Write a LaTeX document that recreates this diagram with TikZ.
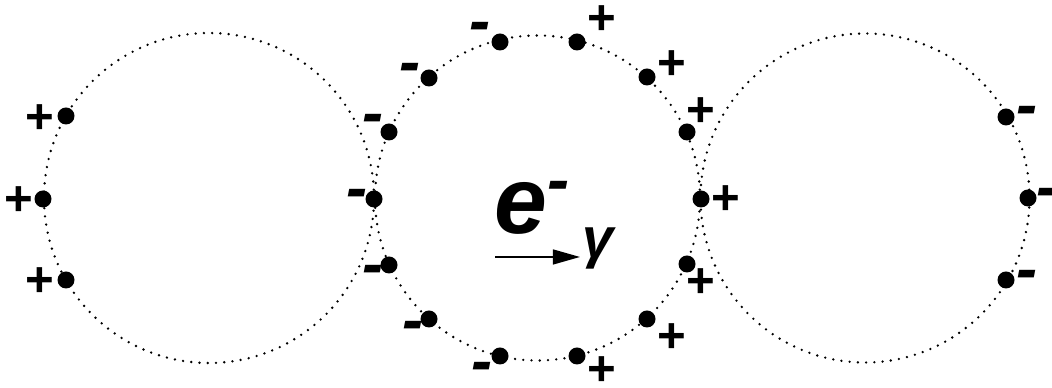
\documentclass[tikz,border=0pt]{standalone}
\usepackage{fontspec}
\setmainfont{Liberation Sans}
\usepackage{tikz}
\usetikzlibrary{positioning,arrows.meta}

\begin{document}
\begin{tikzpicture}[>=Triangle,
  ring/.style={line width=0.75pt, line cap=round, dash pattern=on 0pt off 2.35pt},
  dot/.style={circle, fill=black, inner sep=0pt, minimum size=0.17cm},
  pluslbl/.style={font=\fontsize{14}{14}\selectfont\bfseries, inner sep=0pt},
  minuslbl/.style={font=\fontsize{18}{18}\selectfont\bfseries\itshape, inner sep=0pt}]

\useasboundingbox (0,0) rectangle (10.52,3.88);

% three rings
\coordinate (lc) at (2.09,1.90);
\coordinate (mc) at (5.375,1.90);
\coordinate (rc) at (8.65,1.90);
\draw[ring] (lc) circle (1.65);
\draw[ring] (mc) circle (1.625);
\draw[ring] (rc) circle (1.645);

% left ring
\node[dot] (l1) at (0.66,2.72) {};
\node[dot] (l2) at (0.43,1.89) {};
\node[dot] (l3) at (0.66,1.08) {};
\node[pluslbl] (lp1) at (0.40,2.69) {+};
\node[pluslbl] (lp2) at (0.19,1.87) {+};
\node[pluslbl] (lp3) at (0.40,1.06) {+};

% middle ring, left half
\node[dot] (m1) at (5.00,3.46) {};
\node[dot] (m2) at (4.29,3.10) {};
\node[dot] (m3) at (3.89,2.56) {};
\node[dot] (m4) at (3.74,1.89) {};
\node[dot] (m5) at (3.89,1.23) {};
\node[dot] (m6) at (4.29,0.69) {};
\node[dot] (m7) at (5.00,0.32) {};
\node[minuslbl] (mm1) at (4.80,3.56) {-};
\node[minuslbl] (mm2) at (4.10,3.15) {-};
\node[minuslbl] (mm3) at (3.73,2.64) {-};
\node[minuslbl] (mm4) at (3.57,1.89) {-};
\node[minuslbl] (mm5) at (3.73,1.13) {-};
\node[minuslbl] (mm6) at (4.13,0.57) {-};
\node[minuslbl] (mm7) at (4.82,0.16) {-};

% middle ring, right half
\node[dot] (n1) at (5.77,3.46) {};
\node[dot] (n2) at (6.47,3.11) {};
\node[dot] (n3) at (6.87,2.56) {};
\node[dot] (n4) at (7.01,1.89) {};
\node[dot] (n5) at (6.87,1.24) {};
\node[dot] (n6) at (6.47,0.69) {};
\node[dot] (n7) at (5.77,0.32) {};
\node[pluslbl] (np1) at (6.02,3.68) {+};
\node[pluslbl] (np2) at (6.72,3.23) {+};
\node[pluslbl] (np3) at (7.01,2.76) {+};
\node[pluslbl] (np4) at (7.26,1.88) {+};
\node[pluslbl] (np5) at (7.01,1.05) {+};
\node[pluslbl] (np6) at (6.72,0.50) {+};
\node[pluslbl] (np7) at (6.02,0.17) {+};

% right ring
\node[dot] (r1) at (10.06,2.71) {};
\node[dot] (r2) at (10.28,1.90) {};
\node[dot] (r3) at (10.06,1.08) {};
\node[minuslbl] (rm1) at (10.27,2.72) {-};
\node[minuslbl] (rm2) at (10.47,1.90) {-};
\node[minuslbl] (rm3) at (10.27,1.08) {-};

% electron and its direction
\node[font=\fontsize{27}{27}\selectfont\bfseries\itshape, inner sep=0pt] (elec) at (5.33,1.80) {e\textsuperscript{-}};
\coordinate (ya) at (4.95,1.31);
\coordinate (yb) at (5.80,1.31);
\draw[-{Triangle[length=7.7pt,width=4.2pt]}, line width=0.6pt] (ya) -- (yb);
\node[font=\fontsize{16}{16}\selectfont\bfseries\itshape, inner sep=0pt] (gam) at (5.98,1.40) {γ};

\end{tikzpicture}
\end{document}
